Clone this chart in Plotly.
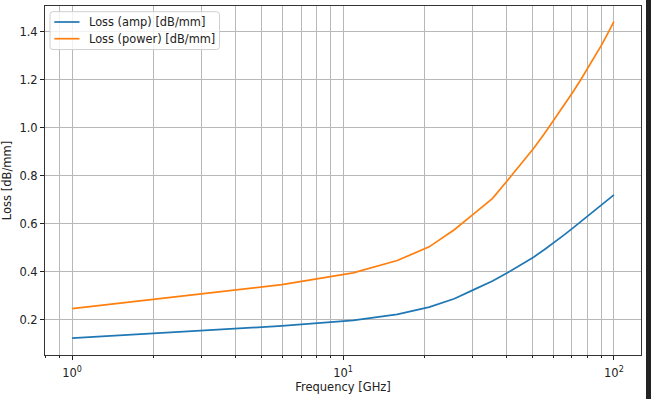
import plotly.graph_objects as go

# Data
freq_ghz = [1, 5.95, 10.9, 15.85, 20.8, 25.75, 30.7, 35.65, 40.6, 45.55, 50.5,
            55.45, 60.4, 65.35, 70.3, 75.25, 80.2, 85.15, 90.1, 95.05, 100]
loss_amp = [0.124, 0.175, 0.198, 0.223, 0.253, 0.288, 0.328, 0.362, 0.397, 0.431, 0.461,
            0.493, 0.523, 0.553, 0.581, 0.608, 0.634, 0.657, 0.678, 0.699, 0.720]
loss_power = [0.247, 0.347, 0.396, 0.447, 0.504, 0.575, 0.645, 0.706, 0.782, 0.850, 0.913,
              0.976, 1.036, 1.092, 1.145, 1.197, 1.247, 1.296, 1.344, 1.393, 1.441]
series_names = ["Loss (amp) [dB/mm]", "Loss (power) [dB/mm]"]
series_colors = ["#1f77b4", "#ff7f0e"]
x_major = [1, 10, 100]
x_major_text = ["10<sup>0</sup>", "10<sup>1</sup>", "10<sup>2</sup>"]
x_minor = [m * d for d in (0.1, 1, 10, 100) for m in range(2, 10)]
y_ticks = [0.2, 0.4, 0.6, 0.8, 1.0, 1.2, 1.4]

FONT = "DejaVu Sans"
TXT = "#222222"
GRID = "#b8b8b8"
W, H = 646, 399
ML, MR, MT, MB = 45, 5, 6, 44
PW, PH = W - ML - MR, H - MT - MB


def px_x(p):
    return (p - ML) / PW


def px_y(p):
    return (H - MB - p) / PH


fig = go.Figure()
for name, ys, col in zip(series_names, [loss_amp, loss_power], series_colors):
    fig.add_trace(go.Scatter(x=freq_ghz, y=ys, mode="lines", name=name,
                             line=dict(color=col, width=1.7), showlegend=False))

# legend box (matplotlib style) drawn in paper coordinates
bx0, bx1, by0, by1, r = 50, 219.5, 11.7, 49.5, 3
rx, ry = r / PW, r / PH
X0, X1, Y0, Y1 = px_x(bx0), px_x(bx1), px_y(by1), px_y(by0)
path = (f"M {X0+rx},{Y0} L {X1-rx},{Y0} Q {X1},{Y0} {X1},{Y0+ry} "
        f"L {X1},{Y1-ry} Q {X1},{Y1} {X1-rx},{Y1} L {X0+rx},{Y1} Q {X0},{Y1} {X0},{Y1-ry} "
        f"L {X0},{Y0+ry} Q {X0},{Y0} {X0+rx},{Y0} Z")
shapes = [dict(type="path", xref="paper", yref="paper", path=path,
               fillcolor="rgba(255,255,255,0.8)", line=dict(color="#d0d0d0", width=1),
               layer="above")]
annotations = []
for i, (name, col) in enumerate(zip(series_names, series_colors)):
    yc = 22 + i * 16.7
    shapes.append(dict(type="line", xref="paper", yref="paper",
                       x0=px_x(54.3), x1=px_x(79.5), y0=px_y(yc), y1=px_y(yc),
                       line=dict(color=col, width=1.7), layer="above"))
    annotations.append(dict(text=name, xref="paper", yref="paper", x=px_x(86.5), y=px_y(yc),
                            xanchor="left", yanchor="middle", showarrow=False,
                            font=dict(family=FONT, size=11.4, color=TXT)))

fig.update_layout(
    width=W, height=H,
    margin=dict(l=ML, r=MR, t=MT, b=MB, autoexpand=False),
    paper_bgcolor="white", plot_bgcolor="white",
    font=dict(family=FONT, size=11.5, color=TXT),
    showlegend=False,
    xaxis=dict(type="log", range=[-0.1, 2.1], automargin=False,
               tickmode="array", tickvals=x_major, ticktext=x_major_text,
               ticks="outside", ticklen=4, tickwidth=1, tickcolor=TXT,
               ticklabelstandoff=3,
               showgrid=True, gridcolor=GRID, gridwidth=1,
               minor=dict(tickmode="array", tickvals=x_minor, ticks="outside", ticklen=2,
                          tickwidth=0.8, tickcolor=TXT, showgrid=True, gridcolor=GRID, gridwidth=1),
               showline=True, linecolor="#333333", linewidth=1, mirror=True,
               zeroline=False,
               title=dict(text="Frequency [GHz]", standoff=3, font=dict(size=11.5))),
    yaxis=dict(range=[0.054, 1.506], automargin=False, tickmode="array", tickvals=y_ticks,
               ticktext=[f"{v:.1f}" for v in y_ticks],
               ticks="outside", ticklen=4, tickwidth=1, tickcolor=TXT,
               showgrid=True, gridcolor=GRID, gridwidth=1,
               showline=True, linecolor="#333333", linewidth=1, mirror=True,
               zeroline=False,
               title=dict(text="Loss [dB/mm]", font=dict(size=11.5))),
    shapes=shapes,
    annotations=annotations,
)

fig.write_html(
    "out.html",
    config={"displayModeBar": False},
    post_script="document.body.style.margin='0px';document.body.style.overflow='hidden';"
                "document.body.style.background='#222222';",
)
